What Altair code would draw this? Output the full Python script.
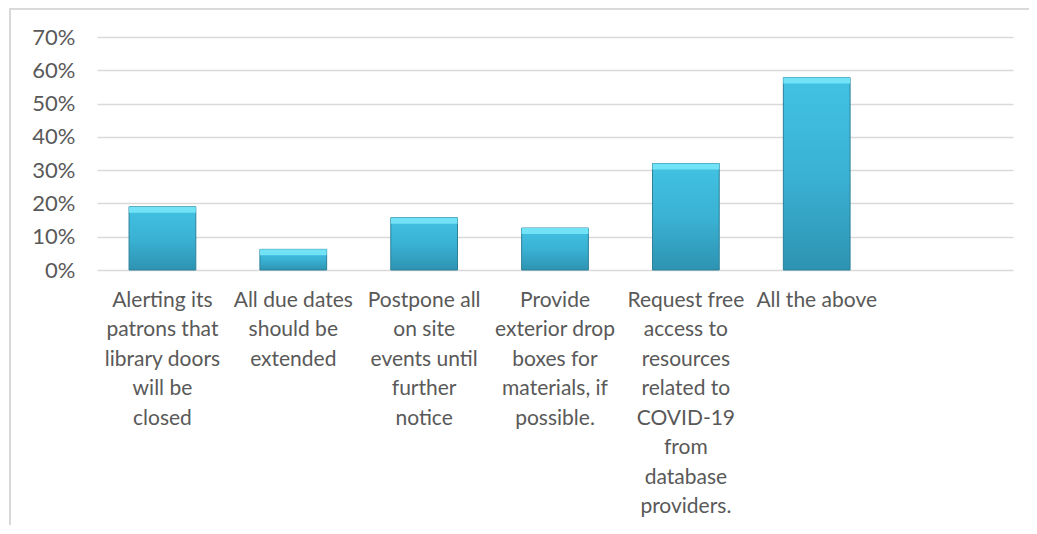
import altair as alt
import pandas as pd

categories = [
    "Alerting its|patrons that|library doors|will be|closed",
    "All due dates|should be|extended",
    "Postpone all|on site|events until|further|notice",
    "Provide|exterior drop|boxes for|materials, if|possible.",
    "Request free|access to|resources|related to|COVID-19|from|database|providers.",
    "All the above",
    "",
]
values = [0.19, 0.062, 0.157, 0.126, 0.32, 0.578]
y_ticks = [0, 0.1, 0.2, 0.3, 0.4, 0.5, 0.6, 0.7]

df = pd.DataFrame({"cat": categories[:len(values)], "val": values})

FONT = "Lato"
TXT = "#595959"

x_enc = alt.X(
    "cat:N",
    sort=None,
    scale=alt.Scale(domain=categories, paddingInner=0.49, paddingOuter=0.245),
    axis=alt.Axis(
        title=None,
        labelAngle=0,
        labelAlign="center",
        labelBaseline="top",
        labelExpr="split(datum.label, '|')",
        labelLineHeight=29.5,
        labelFontSize=21,
        labelFont=FONT,
        labelColor=TXT,
        labelPadding=19,
        labelLimit=0,
        ticks=False,
        domain=False,
        grid=False,
    ),
)

y_enc = alt.Y(
    "val:Q",
    scale=alt.Scale(domain=[0, 0.7], nice=False),
    axis=alt.Axis(
        title=None,
        format=".0%",
        values=y_ticks,
        tickCount=len(y_ticks),
        labelOverlap=False,
        labelFontSize=22,
        labelFont=FONT,
        labelColor=TXT,
        labelPadding=22,
        ticks=False,
        domain=False,
        grid=True,
        gridColor="#D9D9D9",
        gridWidth=1.5,
    ),
)

grad = alt.Gradient(
    gradient="linear",
    stops=[
        alt.GradientStop(color="#42C2E3", offset=0),
        alt.GradientStop(color="#3AB2D4", offset=0.5),
        alt.GradientStop(color="#2E93B2", offset=1),
    ],
    x1=0, x2=0, y1=0, y2=1,
)

bars = alt.Chart(df).mark_bar(fill=grad, stroke="#2B8199", strokeWidth=1).encode(
    x=x_enc, y=y_enc
)

bevel = alt.Chart(df).mark_bar(fill="#72E2F6", y2Offset=6).encode(
    x=x_enc, y="val:Q", y2="val:Q"
)

border_top = alt.Chart(df).mark_rule(color="#D9D9D9", strokeWidth=2).encode(
    x=alt.value(-88), x2=alt.value(932), y=alt.value(-28.5)
)
border_left = alt.Chart(df).mark_rule(color="#D9D9D9", strokeWidth=2).encode(
    x=alt.value(-87), y=alt.value(-29), y2=alt.value(488)
)

chart = (
    alt.layer(bars, bevel, border_top, border_left)
    .properties(
        width=916,
        height=233,
        autosize=alt.AutoSizeParams(type="none"),
        padding={"left": 89, "top": 29, "right": 16, "bottom": 255},
        view=alt.ViewBackground(strokeWidth=0, stroke="transparent"),
    )
    .configure_view(strokeWidth=0, stroke="transparent")
    .configure(background="white")
)

chart.save("out.html", embed_options={"renderer": "svg", "actions": False})
